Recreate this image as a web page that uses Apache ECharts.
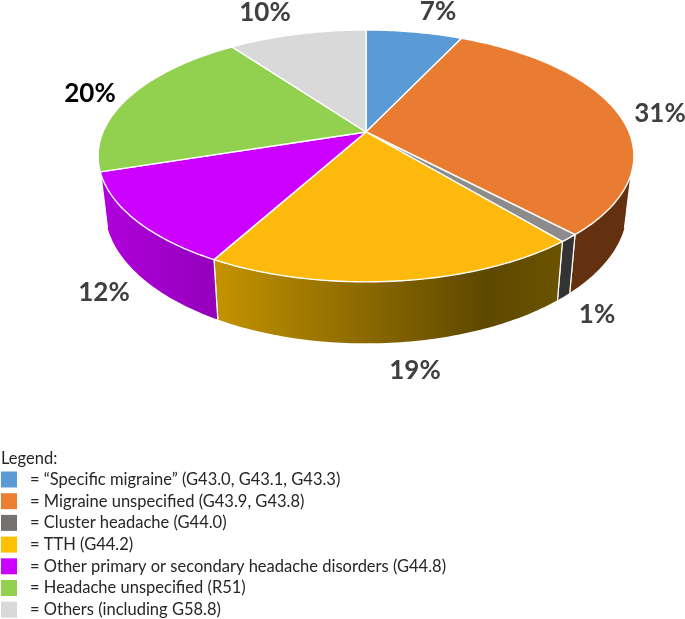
<!DOCTYPE html>
<html>
<head>
<meta charset="utf-8">
<style>
	html, body { margin: 0; padding: 0; background: #fff; }
	#pie { width: 685px; height: 619px; }
</style>
<script src="https://cdn.jsdelivr.net/npm/echarts@6/dist/echarts.min.js"></script>
</head>
<body>
<div id="pie"></div>
<script>
var categories = [
	'\u201cSpecific migraine\u201d (G43.0, G43.1, G43.3)',
	'Migraine unspecified (G43.9, G43.8)',
	'Cluster headache (G44.0)',
	'TTH (G44.2)',
	'Other primary or secondary headache disorders (G44.8)',
	'Headache unspecified (R51)',
	'Others (including G58.8)'
];
var shares = [7, 31, 1, 19, 12, 20, 10];
var topColors = ['#5b9bd5', '#e97c30', '#8c8c8c', '#fdba0c', '#cc00ff', '#92d050', '#d9d9d9'];
var swatchColors = ['#5b9bd5', '#ed7d31', '#767171', '#ffc000', '#cc00ff', '#92d050', '#d9d9d9'];
var labelColors = ['#404040', '#404040', '#404040', '#404040', '#404040', '#000000', '#404040'];

// where the percent labels sit, same order as shares
var labelSpots = [[438, 12], [660, 114], [597, 315], [415, 371], [104, 293], [90, 94], [265, 13]];

// perspective of the disc: apex of the slices, plane scale, foreshortening
var cx = 366, cy = 132, a = 263, b = 121.4, k = 0.19;
var floorY = 183, floorSx = 0.975, floorSy = 1.07;
var frontLimit = 0.31;

function rim(share) {
	var t = share / 100 * Math.PI * 2;
	var X = Math.sin(t), Y = -Math.cos(t), d = 1 - k * Y;
	return [cx + a * X / d, cy + b * Y / d, Y];
}

function floor(p) {
	return [cx + (p[0] - cx) * floorSx, floorY + (p[1] - cy) * floorSy];
}

function wallFill(i) {
	if (i === 1) return '#63310f';
	if (i === 2) return '#333333';
	if (i === 3) {
		return new echarts.graphic.LinearGradient(0, 0, 1, 0, [
			{offset: 0, color: '#c49300'},
			{offset: 0.78, color: '#5e4800'},
			{offset: 1, color: '#6b5300'}
		]);
	}
	if (i === 4) {
		return new echarts.graphic.LinearGradient(0, 0, 1, 0, [
			{offset: 0, color: '#b000dc'},
			{offset: 1, color: '#9400ba'}
		]);
	}
	return null;
}

function renderTop(params, api) {
	var from = api.value(0), to = api.value(1);
	var pts = [[cx, cy]];
	for (var s = from; s < to; s += 0.25) {
		pts.push(rim(s).slice(0, 2));
	}
	pts.push(rim(to).slice(0, 2));
	return {
		type: 'polygon',
		shape: {points: pts},
		style: {fill: api.visual('color'), stroke: '#fff', lineWidth: 1.4, lineJoin: 'round'}
	};
}

function renderWall(params, api) {
	var from = api.value(0), to = api.value(1), i = api.value(2);
	var fill = wallFill(i);
	if (!fill) return null;
	var upper = [];
	for (var s = from; s <= to; s += 0.25) {
		var p = rim(s);
		if (p[2] >= frontLimit) upper.push(p);
	}
	var last = rim(to);
	if (last[2] >= frontLimit) upper.push(last);
	if (upper.length < 2) return null;
	var lower = upper.map(floor).reverse();
	var pts = upper.map(function (p) { return [p[0], p[1]]; }).concat(lower);
	var edges = [];
	[upper[0], upper[upper.length - 1]].forEach(function (p) {
		var f = floor(p);
		edges.push({
			type: 'line',
			shape: {x1: p[0], y1: p[1], x2: f[0], y2: f[1]},
			style: {stroke: '#fff', lineWidth: 1.2}
		});
	});
	return {
		type: 'group',
		children: [{
			type: 'polygon',
			shape: {points: pts},
			style: {fill: fill}
		}].concat(edges)
	};
}

var series = [];
var wallData = [];
var total = 0;
shares.forEach(function (v, i) {
	wallData.push([total, total + v, i]);
	series.push({
		name: categories[i],
		type: 'custom',
		coordinateSystem: 'none',
		renderItem: renderTop,
		itemStyle: {color: topColors[i]},
		z: 3,
		silent: true,
		data: [[total, total + v]]
	});
	total += v;
});
series.unshift({
	name: 'walls',
	type: 'custom',
	coordinateSystem: 'none',
	renderItem: renderWall,
	z: 2,
	silent: true,
	data: wallData
});

var texts = shares.map(function (v, i) {
	return {
		type: 'text',
		x: labelSpots[i][0],
		y: labelSpots[i][1],
		style: {
			text: v + '%',
			fill: labelColors[i],
			font: 'bold 26px Lato',
			align: 'center',
			verticalAlign: 'middle'
		}
	};
});
texts.push({
	type: 'text',
	x: 1,
	y: 459,
	style: {text: 'Legend:', fill: '#262626', font: '16.5px Lato', align: 'left', verticalAlign: 'middle'}
});

var option = {
	backgroundColor: '#fff',
	animation: false,
	legend: {
		orient: 'vertical',
		left: 1,
		top: 471,
		height: 148,
		padding: 0,
		itemWidth: 16,
		itemHeight: 16,
		itemGap: 4.7,
		icon: 'rect',
		selectedMode: false,
		data: categories.map(function (name, i) {
			return {name: name, itemStyle: {color: swatchColors[i]}};
		}),
		formatter: function (name) {
			return '= ' + name;
		},
		textStyle: {
			fontFamily: 'Lato',
			fontSize: 16.5,
			color: '#262626',
			padding: [0, 0, 0, 8]
		}
	},
	graphic: texts,
	series: series
};

var myChart = echarts.init(document.getElementById('pie'));
myChart.setOption(option);
</script>
</body>
</html>
